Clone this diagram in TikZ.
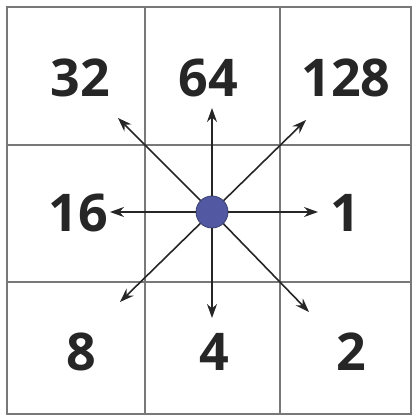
\documentclass[tikz,border=0pt]{standalone}
\usepackage{fontspec}
\setmainfont{Open Sans}
\usepackage{xcolor}
\usetikzlibrary{arrows.meta}
\definecolor{dotblue}{RGB}{82,88,162}
\definecolor{gridgray}{RGB}{120,120,120}

\begin{document}
\begin{tikzpicture}[x=1pt, y=1pt,
      grid/.style={draw=gridgray, line width=1.1pt},
      num/.style={font=\fontsize{52}{52}\selectfont\bfseries, text=black!85, inner sep=0pt},
      arrow/.style={-{Stealth[length=14pt, width=10pt]}, line width=1.6pt, black!85},
      dot/.style={circle, fill=dotblue, draw=dotblue!70!black, line width=0.8pt,
                  minimum size=32pt, inner sep=0pt}
    ]
    \useasboundingbox (0,0) rectangle (412,415);

    % 3x3 grid
    \draw[grid] (7,1) rectangle (411,408);
    \draw[grid] (145,1) -- (145,408);
    \draw[grid] (280,1) -- (280,408);
    \draw[grid] (7,270) -- (411,270);
    \draw[grid] (7,133) -- (411,133);

    % Direction values
    \node[num] (n32)  at (80,337)  {32};
    \node[num] (n64)  at (208,337) {64};
    \node[num] (n128) at (346,337) {128};
    \node[num] (n16)  at (78,202)  {16};
    \node[num] (n1)   at (345,202) {1};
    \node[num] (n8)   at (81,63)   {8};
    \node[num] (n4)   at (214,63)  {4};
    \node[num] (n2)   at (351,63)  {2};

    % Arrow ends
    \coordinate (e)  at (318,203);
    \coordinate (w)  at (110,203);
    \coordinate (n)  at (212,307);
    \coordinate (s)  at (212,97);
    \coordinate (nw) at (118,297);
    \coordinate (ne) at (306,295);
    \coordinate (sw) at (120,113);
    \coordinate (se) at (309,103);

    % Centre cell
    \node[dot] (c) at (212,203) {};

    \foreach \d in {e,w,n,s,nw,ne,sw,se}
      \draw[arrow] (c) -- (\d);

  \end{tikzpicture}
\end{document}
